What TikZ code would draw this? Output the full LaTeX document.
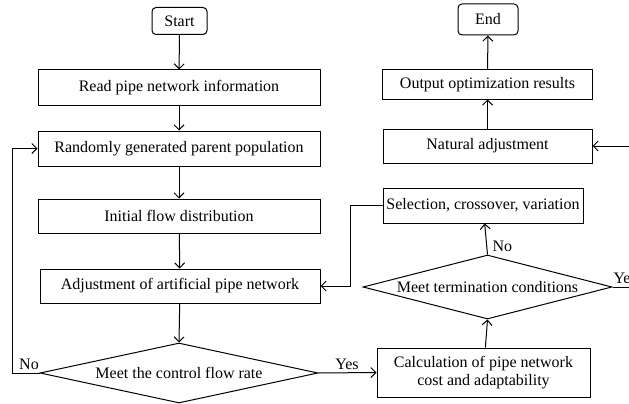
\documentclass[tikz,border=0pt]{standalone}
\usepackage{fontspec}
\setmainfont{Liberation Serif}
\usetikzlibrary{shapes.geometric,arrows.meta}
\begin{document}
\begin{tikzpicture}[x=1pt, y=-1pt, line width=1pt, >={Straight Barb[length=5pt,width=10pt]}]
  \tikzstyle{box}=[draw, rectangle, inner sep=0pt, font=\fontsize{16}{18}\selectfont]
  \tikzstyle{term}=[box, rounded corners=4pt]
  \tikzstyle{cond}=[draw, diamond, inner sep=0pt, shape aspect=4.5, font=\fontsize{16}{18}\selectfont]
  \tikzstyle{lab}=[font=\fontsize{16}{18}\selectfont, inner sep=1pt]
  \useasboundingbox (0,0) rectangle (629,404);

  % linke Spalte
  \node[term, minimum width=55, minimum height=27] (start) at (179.5,21) {Start};
  \node[box, minimum width=282, minimum height=35] (read) at (179,87.5) {Read pipe network information};
  \node[box, minimum width=282, minimum height=35] (random) at (179,148.5) {Randomly generated parent population};
  \node[box, minimum width=282, minimum height=34] (init) at (179,216) {Initial flow distribution};
  \node[box, minimum width=280, minimum height=34] (adjust) at (180,286) {Adjustment of artificial pipe network};
  \node[cond, minimum width=278, minimum height=60] (control) at (179,373) {Meet the control flow rate};

  % rechte Spalte
  \node[term, minimum width=60, minimum height=31] (end) at (488,19.5) {End};
  \node[box, minimum width=210, minimum height=29] (output) at (487.5,84.5) {Output optimization results};
  \node[box, minimum width=209, minimum height=34] (natural) at (487.5,146) {Natural adjustment};
  \node[box, minimum width=200, minimum height=35] (select) at (483,205.5) {Selection, crossover, variation};
  \node[cond, minimum width=249, minimum height=64] (termin) at (487.5,287) {Meet termination conditions};
  \node[box, minimum width=213, minimum height=49, align=center] (calc) at (483.5,372.5) {Calculation of pipe network\\cost and adaptability};

  \coordinate (loopl) at (12,373);
  \coordinate (selbend) at (350,205.5);
  \coordinate (yesout) at (660,287);
  \coordinate (natin) at (660,146);

  % Verbindungen
  \draw[->] (start) -- (read);
  \draw[->] (read) -- (random);
  \draw[->] (random) -- (init);
  \draw[->] (init) -- (adjust);
  \draw[->] (adjust) -- (control.north);
  \draw[->] (control.west) -- (loopl) |- (random.west);
  \node[lab, anchor=south] (no1) at (29,371) {No};
  \draw[->] (control.east) -- (calc.west);
  \node[lab, anchor=south] (yes1) at (347,371) {Yes};
  \draw[->] (calc) -- (termin.south);
  \draw[->] (termin.north) -- (select);
  \node[lab, anchor=west] (no2) at (491,246) {No};
  \draw[->] (select.west) -- (selbend) |- (adjust.east);
  \draw (termin.east) -- (yesout);
  \node[lab, anchor=south west] (yes2) at (612,285) {Yes};
  \draw[->] (natin) -- (natural.east);
  \draw[->] (natural) -- (output);
  \draw[->] (output) -- (end);
\end{tikzpicture}
\end{document}
